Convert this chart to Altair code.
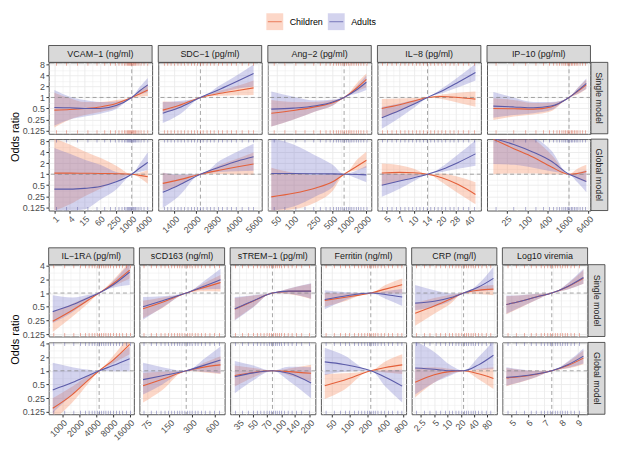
import math
import altair as alt
import pandas as pd

FONT = "Liberation Sans"
GROUPS = ["Children", "Adults"]
LINE_COLORS = ["#E4603A", "#5B5BA9"]
BAND_COLORS = ["#F47A4A", "#6E6EC8"]
RUG_COLORS = ["#D9472B", "#4A4A9C"]
ROW_LABELS = ["Single model", "Global model"]

Y_TICKS_TOP = [0.125, 0.25, 0.5, 1, 2, 4, 8]
Y_TICKS_BOTTOM = [0.125, 0.25, 0.5, 1, 2, 4]

# ---------------- VCAM-1 ----------------
VCAM_TICKS = [1, 4, 15, 60, 250, 1000, 4000]
VCAM_REF = 1000
VCAM_X = [1, 4, 15, 60, 250, 1000, 2000, 4200]
VCAM_SINGLE_CHILDREN = dict(mid=[0.45, 0.47, 0.5, 0.55, 0.68, 1.0, 1.25, 1.6], lo=[0.15, 0.25, 0.33, 0.40, 0.52, 1.0, 1.05, 1.1], hi=[1.35, 0.95, 0.75, 0.75, 0.85, 1.0, 1.5, 2.3])
VCAM_SINGLE_ADULTS = dict(mid=[0.53, 0.52, 0.5, 0.5, 0.6, 1.0, 1.5, 2.2], lo=[0.17, 0.25, 0.3, 0.36, 0.48, 1.0, 1.2, 1.4], hi=[1.6, 1.05, 0.85, 0.75, 0.78, 1.0, 1.9, 3.4])
VCAM_GLOBAL_CHILDREN = dict(mid=[1.07, 1.07, 1.06, 1.05, 1.03, 1.0, 0.93, 0.85], lo=[0.1, 0.15, 0.25, 0.4, 0.65, 1.0, 0.8, 0.55], hi=[9.5, 6.5, 4.2, 2.8, 1.7, 1.0, 1.1, 1.3])
VCAM_GLOBAL_ADULTS = dict(mid=[0.39, 0.39, 0.41, 0.46, 0.62, 1.0, 1.45, 2.1], lo=[0.1, 0.1, 0.11, 0.2, 0.38, 1.0, 1.15, 1.3], hi=[5.2, 3.6, 2.5, 1.8, 1.15, 1.0, 1.9, 4.0])
VCAM_RUG = [1.2, 3, 8, 20, 45, 90, 150, 230, 320, 420, 520, 600, 680, 750, 820, 900, 980, 1050, 1150, 1250, 1400, 1600, 1900, 2300, 3000, 4200]

# ---------------- SDC-1 ----------------
SDC_TICKS = [1400, 2000, 2800, 4000, 5600]
SDC_REF = 2150
SDC_X = [1150, 1500, 2150, 3000, 4000, 5200]
SDC_SINGLE_CHILDREN = dict(mid=[0.45, 0.6, 1.0, 1.3, 1.55, 1.83], lo=[0.38, 0.5, 1.0, 1.12, 1.15, 1.17], hi=[0.77, 0.75, 1.0, 1.55, 2.1, 2.9])
SDC_SINGLE_ADULTS = dict(mid=[0.37, 0.52, 1.0, 1.7, 2.8, 4.5], lo=[0.2, 0.33, 1.0, 1.35, 1.75, 2.0], hi=[0.75, 0.8, 1.0, 2.2, 4.2, 8.0])
SDC_GLOBAL_CHILDREN = dict(mid=[0.56, 0.7, 1.0, 1.3, 1.6, 1.9], lo=[0.35, 0.5, 1.0, 1.02, 0.98, 0.96], hi=[1.1, 0.95, 1.0, 1.8, 2.7, 3.9])
SDC_GLOBAL_ADULTS = dict(mid=[0.32, 0.5, 1.0, 1.6, 2.3, 3.0], lo=[0.12, 0.25, 1.0, 1.15, 1.2, 1.25], hi=[1.1, 1.0, 1.0, 2.4, 4.2, 6.8])
SDC_RUG = [1180, 1250, 1320, 1400, 1480, 1560, 1650, 1750, 1850, 1950, 2050, 2150, 2250, 2400, 2550, 2700, 2900, 3100, 3350, 3600, 3900, 4300, 4800, 5200]

# ---------------- Ang-2 ----------------
ANG_TICKS = [50, 100, 250, 500, 1000, 2000]
ANG_REF = 800
ANG_X = [40, 100, 250, 500, 800, 1400, 2000]
ANG_SINGLE_CHILDREN = dict(mid=[0.37, 0.44, 0.56, 0.72, 1.0, 1.9, 3.1], lo=[0.16, 0.25, 0.42, 0.6, 1.0, 1.5, 1.9], hi=[0.85, 0.75, 0.75, 0.85, 1.0, 2.6, 4.5])
ANG_SINGLE_ADULTS = dict(mid=[0.48, 0.51, 0.59, 0.75, 1.0, 1.7, 2.6], lo=[0.16, 0.25, 0.42, 0.6, 1.0, 1.3, 1.6], hi=[1.45, 1.05, 0.82, 0.88, 1.0, 2.2, 4.0])
ANG_GLOBAL_CHILDREN = dict(mid=[0.24, 0.3, 0.42, 0.62, 1.0, 1.7, 2.4], lo=[0.1, 0.11, 0.17, 0.35, 1.0, 1.3, 1.5], hi=[1.5, 1.1, 0.95, 0.98, 1.0, 2.6, 4.1])
ANG_GLOBAL_ADULTS = dict(mid=[1.05, 1.04, 1.03, 1.02, 1.0, 0.98, 0.96], lo=[0.1, 0.13, 0.25, 0.45, 1.0, 0.75, 0.6], hi=[9.5, 6.5, 3.2, 1.8, 1.0, 1.3, 1.7])
ANG_RUG = [45, 70, 110, 160, 230, 300, 380, 450, 520, 580, 640, 700, 760, 820, 880, 950, 1020, 1100, 1200, 1320, 1450, 1600, 1800, 2050]

# ---------------- IL-8 ----------------
IL8_TICKS = [5, 7, 10, 14, 20, 28, 40]
IL8_REF = 14
IL8_X = [4.5, 7, 10, 14, 20, 30, 46]
IL8_SINGLE_CHILDREN = dict(mid=[0.5, 0.63, 0.8, 1.0, 1.06, 1.0, 0.9], lo=[0.28, 0.42, 0.65, 1.0, 0.9, 0.72, 0.56], hi=[0.9, 0.93, 0.97, 1.0, 1.2, 1.35, 1.45])
IL8_SINGLE_ADULTS = dict(mid=[0.28, 0.44, 0.66, 1.0, 1.5, 2.6, 4.8], lo=[0.14, 0.28, 0.52, 1.0, 1.3, 1.9, 2.9], hi=[0.55, 0.68, 0.85, 1.0, 1.75, 3.6, 8.4])
IL8_GLOBAL_CHILDREN = dict(mid=[1.08, 1.12, 1.1, 1.0, 0.8, 0.52, 0.28], lo=[0.5, 0.65, 0.85, 1.0, 0.6, 0.3, 0.15], hi=[1.95, 1.75, 1.4, 1.0, 1.05, 0.85, 0.6])
IL8_GLOBAL_ADULTS = dict(mid=[0.5, 0.65, 0.8, 1.0, 1.35, 2.1, 3.6], lo=[0.24, 0.4, 0.65, 1.0, 1.15, 1.4, 1.7], hi=[1.05, 1.02, 1.0, 1.0, 1.6, 3.5, 8.5])
IL8_RUG = [4.6, 5.2, 5.8, 6.5, 7.2, 8, 8.8, 9.7, 10.6, 11.6, 12.7, 13.9, 15.2, 16.6, 18.2, 20, 22, 24.5, 27, 30, 34, 39, 45]

# ---------------- IP-10 ----------------
IP10_TICKS = [25, 100, 400, 1600, 6400]
IP10_REF = 1700
IP10_X = [10, 40, 150, 500, 1700, 3000, 5500]
IP10_SINGLE_CHILDREN = dict(mid=[0.5, 0.49, 0.48, 0.55, 1.0, 1.45, 2.2], lo=[0.24, 0.3, 0.34, 0.42, 1.0, 1.2, 1.7], hi=[0.95, 0.85, 0.7, 0.72, 1.0, 1.75, 3.1])
IP10_SINGLE_ADULTS = dict(mid=[0.58, 0.55, 0.52, 0.58, 1.0, 1.5, 2.4], lo=[0.28, 0.33, 0.37, 0.45, 1.0, 1.25, 1.7], hi=[1.4, 1.0, 0.75, 0.75, 1.0, 1.8, 3.3])
IP10_GLOBAL_CHILDREN = dict(mid=[9.0, 5.0, 2.9, 1.6, 1.0, 1.05, 1.18], lo=[1.0, 1.05, 1.05, 1.0, 1.0, 0.75, 0.6], hi=[12, 12, 9, 3.5, 1.0, 1.4, 1.8])
IP10_GLOBAL_ADULTS = dict(mid=[9.5, 6.5, 4.0, 2.3, 1.0, 0.8, 0.63], lo=[1.9, 1.8, 1.5, 1.2, 1.0, 0.6, 0.32], hi=[12, 12, 10, 4.5, 1.0, 1.1, 1.3])
IP10_RUG = [12, 40, 90, 180, 300, 450, 600, 750, 900, 1050, 1200, 1350, 1500, 1650, 1800, 2000, 2200, 2450, 2750, 3100, 3600, 4300, 5200]

# ---------------- IL-1RA ----------------
IL1RA_TICKS = [1000, 2000, 4000, 8000, 16000]
IL1RA_REF = 4540
IL1RA_X = [670, 1500, 3000, 4540, 8000, 16000]
IL1RA_SINGLE_CHILDREN = dict(mid=[0.24, 0.42, 0.72, 1.0, 1.6, 3.2], lo=[0.14, 0.3, 0.62, 1.0, 1.4, 2.1], hi=[0.38, 0.58, 0.85, 1.0, 1.9, 5.0])
IL1RA_SINGLE_ADULTS = dict(mid=[0.39, 0.55, 0.8, 1.0, 1.5, 2.9], lo=[0.22, 0.38, 0.7, 1.0, 1.3, 1.5], hi=[0.9, 0.8, 0.92, 1.0, 1.8, 4.5])
IL1RA_GLOBAL_CHILDREN = dict(mid=[0.15, 0.3, 0.65, 1.0, 1.7, 3.8], lo=[0.08, 0.2, 0.55, 1.0, 1.45, 2.3], hi=[0.25, 0.45, 0.8, 1.0, 2.1, 6.0])
IL1RA_GLOBAL_ADULTS = dict(mid=[0.38, 0.55, 0.8, 1.0, 1.3, 1.85], lo=[0.12, 0.3, 0.65, 1.0, 0.98, 0.98], hi=[1.5, 1.2, 1.05, 1.0, 1.75, 3.4])
IL1RA_RUG = [700, 1100, 1600, 2100, 2600, 3000, 3400, 3800, 4200, 4600, 5000, 5500, 6000, 6600, 7300, 8200, 9300, 10500, 12000, 14000, 16500]

# ---------------- sCD163 ----------------
SCD_TICKS = [75, 150, 300, 600]
SCD_REF = 250
SCD_X = [66, 120, 250, 450, 720]
SCD_SINGLE_CHILDREN = dict(mid=[0.45, 0.63, 1.0, 1.35, 1.7], lo=[0.28, 0.47, 1.0, 1.1, 1.08], hi=[0.68, 0.8, 1.0, 1.7, 2.5])
SCD_SINGLE_ADULTS = dict(mid=[0.5, 0.68, 1.0, 1.45, 1.95], lo=[0.26, 0.48, 1.0, 1.2, 1.22], hi=[0.82, 0.85, 1.0, 1.9, 3.4])
SCD_GLOBAL_CHILDREN = dict(mid=[0.47, 0.65, 1.0, 1.22, 1.35], lo=[0.2, 0.38, 1.0, 0.92, 0.85], hi=[0.9, 0.95, 1.0, 1.55, 2.1])
SCD_GLOBAL_ADULTS = dict(mid=[0.64, 0.78, 1.0, 1.35, 1.73], lo=[0.3, 0.5, 1.0, 0.95, 0.87], hi=[1.5, 1.2, 1.0, 1.9, 3.4])
SCD_RUG = [68, 85, 100, 115, 130, 145, 160, 175, 190, 205, 220, 240, 260, 280, 300, 330, 360, 400, 450, 520, 600, 700]

# ---------------- sTREM-1 ----------------
STREM_TICKS = [35, 50, 70, 100, 140, 200]
STREM_REF = 80
STREM_X = [31.5, 50, 80, 120, 208]
STREM_SINGLE_CHILDREN = dict(mid=[0.44, 0.67, 1.0, 1.09, 1.1], lo=[0.26, 0.5, 1.0, 0.95, 0.74], hi=[0.78, 0.88, 1.0, 1.25, 1.6])
STREM_SINGLE_ADULTS = dict(mid=[0.45, 0.68, 1.0, 1.1, 1.1], lo=[0.25, 0.49, 1.0, 0.96, 0.75], hi=[0.82, 0.9, 1.0, 1.26, 1.65])
STREM_GLOBAL_CHILDREN = dict(mid=[0.79, 0.92, 1.0, 0.96, 0.88], lo=[0.45, 0.72, 1.0, 0.8, 0.58], hi=[1.3, 1.15, 1.0, 1.12, 1.35])
STREM_GLOBAL_ADULTS = dict(mid=[0.74, 0.9, 1.0, 0.88, 0.54], lo=[0.32, 0.62, 1.0, 0.6, 0.25], hi=[1.65, 1.3, 1.0, 1.22, 1.2])
STREM_RUG = [32, 38, 44, 50, 55, 60, 65, 70, 74, 78, 82, 86, 90, 95, 100, 108, 118, 130, 145, 165, 200]

# ---------------- Ferritin ----------------
FERR_TICKS = [50, 100, 200, 400, 800]
FERR_REF = 227
FERR_X = [38, 80, 227, 400, 770]
FERR_SINGLE_CHILDREN = dict(mid=[0.69, 0.8, 1.0, 1.22, 1.52], lo=[0.5, 0.65, 1.0, 0.98, 0.98], hi=[1.0, 0.98, 1.0, 1.5, 2.1])
FERR_SINGLE_ADULTS = dict(mid=[0.72, 0.85, 1.0, 0.93, 0.82], lo=[0.44, 0.68, 1.0, 0.75, 0.52], hi=[1.15, 1.05, 1.0, 1.1, 1.22])
FERR_GLOBAL_CHILDREN = dict(mid=[0.47, 0.62, 1.0, 1.18, 1.35], lo=[0.24, 0.38, 1.0, 0.92, 0.85], hi=[0.85, 0.88, 1.0, 1.6, 2.3])
FERR_GLOBAL_ADULTS = dict(mid=[1.57, 1.38, 1.0, 0.72, 0.46], lo=[0.8, 0.95, 1.0, 0.45, 0.2], hi=[3.2, 2.2, 1.0, 1.02, 1.05])
FERR_RUG = [40, 55, 70, 85, 100, 120, 140, 160, 180, 200, 215, 230, 250, 270, 300, 340, 390, 450, 530, 650, 760]

# ---------------- CRP ----------------
CRP_TICKS = [2.5, 5, 10, 20, 40, 80]
CRP_REF = 23
CRP_X = [1.85, 5, 12, 23, 50, 109]
CRP_SINGLE_CHILDREN = dict(mid=[0.36, 0.52, 0.75, 1.0, 1.15, 1.22], lo=[0.19, 0.35, 0.6, 1.0, 0.95, 0.9], hi=[0.6, 0.78, 0.92, 1.0, 1.38, 1.5])
CRP_SINGLE_ADULTS = dict(mid=[0.6, 0.66, 0.8, 1.0, 1.35, 2.1], lo=[0.42, 0.5, 0.68, 1.0, 1.1, 1.15], hi=[1.5, 1.15, 0.98, 1.0, 1.6, 3.8])
CRP_GLOBAL_CHILDREN = dict(mid=[0.56, 0.82, 0.97, 1.0, 0.86, 0.68], lo=[0.26, 0.55, 0.85, 1.0, 0.65, 0.4], hi=[1.15, 1.2, 1.1, 1.0, 1.1, 1.2])
CRP_GLOBAL_ADULTS = dict(mid=[1.15, 1.08, 1.0, 1.0, 1.35, 2.2], lo=[0.3, 0.55, 0.8, 1.0, 1.05, 1.1], hi=[4.5, 2.6, 1.3, 1.0, 2.0, 4.5])
CRP_RUG = [2, 3, 4, 5.5, 7, 9, 11, 13, 15.5, 18, 21, 24, 27, 30, 34, 38, 43, 50, 60, 75, 95]

# ---------------- Log10 viremia ----------------
VIR_TICKS = [5, 6, 7, 8, 9]
VIR_REF = 7.44
VIR_X = [4.7, 5.5, 6.5, 7.44, 8.4, 9.35]
VIR_SINGLE_CHILDREN = dict(mid=[0.56, 0.65, 0.82, 1.0, 1.38, 2.1], lo=[0.34, 0.47, 0.7, 1.0, 1.2, 1.6], hi=[0.85, 0.88, 0.95, 1.0, 1.6, 3.2])
VIR_SINGLE_ADULTS = dict(mid=[0.56, 0.65, 0.82, 1.0, 1.4, 2.2], lo=[0.35, 0.48, 0.7, 1.0, 1.2, 1.6], hi=[0.88, 0.9, 0.96, 1.0, 1.65, 3.4])
VIR_GLOBAL_CHILDREN = dict(mid=[0.7, 0.74, 0.84, 1.0, 1.3, 1.9], lo=[0.46, 0.55, 0.72, 1.0, 1.12, 1.4], hi=[1.15, 1.05, 1.0, 1.0, 1.55, 2.8])
VIR_GLOBAL_ADULTS = dict(mid=[0.72, 0.76, 0.85, 1.0, 1.35, 2.1], lo=[0.47, 0.56, 0.73, 1.0, 1.15, 1.45], hi=[1.2, 1.08, 1.0, 1.0, 1.6, 3.1])
VIR_RUG = [4.8, 5.3, 5.8, 6.2, 6.5, 6.8, 7.0, 7.2, 7.35, 7.5, 7.65, 7.8, 7.95, 8.1, 8.25, 8.4, 8.6, 8.8, 9.1]

# panel: label, scale type, x-domain, ticks, ref, x, rug, curves[row][group]
TOP_PANELS = [
    ("VCAM\u22121 (ng/ml)", "log", [0.6, 6170], VCAM_TICKS, VCAM_REF, VCAM_X, VCAM_RUG,
     [[VCAM_SINGLE_CHILDREN, VCAM_SINGLE_ADULTS], [VCAM_GLOBAL_CHILDREN, VCAM_GLOBAL_ADULTS]]),
    ("SDC\u22121 (pg/ml)", "log", [1067, 5950], SDC_TICKS, SDC_REF, SDC_X, SDC_RUG,
     [[SDC_SINGLE_CHILDREN, SDC_SINGLE_ADULTS], [SDC_GLOBAL_CHILDREN, SDC_GLOBAL_ADULTS]]),
    ("Ang\u22122 (pg/ml)", "log", [34.7, 2447], ANG_TICKS, ANG_REF, ANG_X, ANG_RUG,
     [[ANG_SINGLE_CHILDREN, ANG_SINGLE_ADULTS], [ANG_GLOBAL_CHILDREN, ANG_GLOBAL_ADULTS]]),
    ("IL\u22128 (pg/ml)", "log", [4.04, 52.6], IL8_TICKS, IL8_REF, IL8_X, IL8_RUG,
     [[IL8_SINGLE_CHILDREN, IL8_SINGLE_ADULTS], [IL8_GLOBAL_CHILDREN, IL8_GLOBAL_ADULTS]]),
    ("IP\u221210 (pg/ml)", "log", [6.5, 7280], IP10_TICKS, IP10_REF, IP10_X, IP10_RUG,
     [[IP10_SINGLE_CHILDREN, IP10_SINGLE_ADULTS], [IP10_GLOBAL_CHILDREN, IP10_GLOBAL_ADULTS]]),
]
BOTTOM_PANELS = [
    ("IL\u22121RA (pg/ml)", "log", [566, 19000], IL1RA_TICKS, IL1RA_REF, IL1RA_X, IL1RA_RUG,
     [[IL1RA_SINGLE_CHILDREN, IL1RA_SINGLE_ADULTS], [IL1RA_GLOBAL_CHILDREN, IL1RA_GLOBAL_ADULTS]]),
    ("sCD163 (ng/ml)", "log", [59, 817], SCD_TICKS, SCD_REF, SCD_X, SCD_RUG,
     [[SCD_SINGLE_CHILDREN, SCD_SINGLE_ADULTS], [SCD_GLOBAL_CHILDREN, SCD_GLOBAL_ADULTS]]),
    ("sTREM\u22121 (pg/ml)", "log", [28.1, 231], STREM_TICKS, STREM_REF, STREM_X, STREM_RUG,
     [[STREM_SINGLE_CHILDREN, STREM_SINGLE_ADULTS], [STREM_GLOBAL_CHILDREN, STREM_GLOBAL_ADULTS]]),
    ("Ferritin (ng/ml)", "log", [32.7, 895], FERR_TICKS, FERR_REF, FERR_X, FERR_RUG,
     [[FERR_SINGLE_CHILDREN, FERR_SINGLE_ADULTS], [FERR_GLOBAL_CHILDREN, FERR_GLOBAL_ADULTS]]),
    ("CRP (mg/l)", "log", [1.54, 130], CRP_TICKS, CRP_REF, CRP_X, CRP_RUG,
     [[CRP_SINGLE_CHILDREN, CRP_SINGLE_ADULTS], [CRP_GLOBAL_CHILDREN, CRP_GLOBAL_ADULTS]]),
    ("Log10 viremia", "linear", [4.46, 9.6], VIR_TICKS, VIR_REF, VIR_X, VIR_RUG,
     [[VIR_SINGLE_CHILDREN, VIR_SINGLE_ADULTS], [VIR_GLOBAL_CHILDREN, VIR_GLOBAL_ADULTS]]),
]

GRID = "#EBEBEB"
STRIP_H = 17
W_TOP, H_TOP = 104.3, 72
W_BOT, H_BOT = 85.9, 72.4
ROW_GAP = 5.4
COL_GAP = 5.5


def minor_breaks(ticks, domain, log):
    if log:
        mids = [math.sqrt(a * b) for a, b in zip(ticks[:-1], ticks[1:])]
        lo = ticks[0] / math.sqrt(ticks[1] / ticks[0])
        hi = ticks[-1] * math.sqrt(ticks[-1] / ticks[-2])
    else:
        mids = [(a + b) / 2 for a, b in zip(ticks[:-1], ticks[1:])]
        lo = ticks[0] - (ticks[1] - ticks[0]) / 2
        hi = ticks[-1] + (ticks[-1] - ticks[-2]) / 2
    return [v for v in [lo] + mids + [hi] if domain[0] <= v <= domain[1]]


def make_axis(major, domain, log, show, **extra):
    major_in = [v for v in major if domain[0] <= v <= domain[1]]
    minor = minor_breaks(major, domain, log)
    test = "indexof([%s], datum.value) >= 0" % ",".join(repr(v) for v in major_in)
    return alt.Axis(
        values=sorted(major_in + minor), grid=True, gridColor=GRID,
        gridWidth={"condition": {"test": test, "value": 0.9}, "value": 0.45},
        domain=False, labels=show, ticks=show,
        tickOpacity={"condition": {"test": test, "value": 1}, "value": 0},
        labelExpr="(%s) ? '' + datum.value : ''" % test,
        labelOverlap=False, labelFlush=False, **extra)


def curve_df(xs, curves):
    recs = []
    for g, cur in zip(GROUPS, curves):
        for x, m, lo, hi in zip(xs, cur["mid"], cur["lo"], cur["hi"]):
            recs.append(dict(x=x, group=g, mid=m, lo=lo, hi=hi))
    return pd.DataFrame(recs)


def make_cell(p, r, col, ncol, W, H, ydom, yticks):
    label, stype, xdom, xticks, ref, xs_vals, rug, curves = p
    log = stype == "log"
    if log:
        xscale = alt.Scale(type="log", domain=xdom, nice=False)
    else:
        xscale = alt.Scale(type="linear", domain=xdom, nice=False, zero=False)
    yscale = alt.Scale(type="log", domain=ydom, nice=False)
    xaxis = make_axis(xticks, xdom, log, r == 1, labelAngle=315, labelAlign="right",
                      labelBaseline="top", labelPadding=1, title=None)
    y_extra = dict(labelPadding=1.5)
    if col == 0 and r == 0:
        y_extra.update(title="Odds ratio", titleY=H + ROW_GAP / 2, titlePadding=2,
                       titleFontSize=11, titleFontWeight="normal", titleColor="#000000")
    else:
        y_extra.update(title=None)
    yaxis = make_axis(yticks, ydom, True, col == 0, **y_extra)

    def X(f):
        return alt.X(f, scale=xscale, axis=xaxis)

    def Y(f):
        return alt.Y(f, scale=yscale, axis=yaxis)

    df = curve_df(xs_vals, curves[r])
    band = alt.Chart(df).mark_area(clip=True, opacity=0.3, interpolate="monotone").encode(
        x=X("x:Q"), y=Y("lo:Q"), y2="hi:Q",
        fill=alt.Fill("group:N", scale=alt.Scale(domain=GROUPS, range=BAND_COLORS), legend=None))
    line = alt.Chart(df).mark_line(clip=True, strokeWidth=1.1, interpolate="monotone").encode(
        x=X("x:Q"), y=Y("mid:Q"),
        stroke=alt.Stroke("group:N", scale=alt.Scale(domain=GROUPS, range=LINE_COLORS), legend=None))
    hline = alt.Chart(pd.DataFrame({"one": [1.0]})).mark_rule(
        color="#808080", strokeDash=[4, 3], strokeWidth=0.7).encode(y=Y("one:Q"))
    vline = alt.Chart(pd.DataFrame({"ref": [ref]})).mark_rule(
        color="#808080", strokeDash=[4, 3], strokeWidth=0.7).encode(x=X("ref:Q"))
    rug_df = pd.DataFrame({"v": rug})
    rug_top = alt.Chart(rug_df).mark_tick(color=RUG_COLORS[r], size=3.5, thickness=0.7, opacity=0.6).encode(
        x=X("v:Q"), y=alt.value(1.75))
    rug_bot = alt.Chart(rug_df).mark_tick(color=RUG_COLORS[r], size=3.5, thickness=0.7, opacity=0.6).encode(
        x=X("v:Q"), y=alt.value(H - 1.75))
    layers = [band, hline, vline, line, rug_top, rug_bot]
    if r == 0:
        sdf = pd.DataFrame({"label": [label]})
        layers.append(alt.Chart(sdf).mark_rect(fill="#D9D9D9", stroke="#333333", strokeWidth=0.8).encode(
            x=alt.value(0), x2=alt.value(W), y=alt.value(-STRIP_H), y2=alt.value(0)))
        layers.append(alt.Chart(sdf).mark_text(fontSize=9, color="#1A1A1A").encode(
            text="label:N", x=alt.value(W / 2), y=alt.value(-STRIP_H / 2)))
    if col == ncol - 1:
        rdf = pd.DataFrame({"label": [ROW_LABELS[r]]})
        layers.append(alt.Chart(rdf).mark_rect(fill="#D9D9D9", stroke="#333333", strokeWidth=0.8).encode(
            x=alt.value(W + 0.5), x2=alt.value(W + 17.5), y=alt.value(0), y2=alt.value(H)))
        layers.append(alt.Chart(rdf).mark_text(fontSize=9, color="#1A1A1A", angle=90).encode(
            text="label:N", x=alt.value(W + 9), y=alt.value(H / 2)))
    return alt.layer(*layers).properties(width=W, height=H)


def make_block(panels, W, H, ydom, yticks):
    n = len(panels)
    cells = [make_cell(p, r, c, n, W, H, ydom, yticks) for r in range(2) for c, p in enumerate(panels)]
    return alt.concat(*cells, columns=n, spacing={"row": ROW_GAP, "column": COL_GAP},
                      bounds="flush").resolve_scale(x="independent", y="independent")


block_top = make_block(TOP_PANELS, W_TOP, H_TOP, [0.1015, 9.1], Y_TICKS_TOP)
block_bottom = make_block(BOTTOM_PANELS, W_BOT, H_BOT, [0.111, 4.2], Y_TICKS_BOTTOM)

# legend (manual, drawn from the group list through a point scale)
leg_df = pd.DataFrame({"group": GROUPS})
leg_x = alt.X("group:N", sort=GROUPS,
              scale=alt.Scale(type="point", domain=GROUPS, range=[228, 290], padding=0), axis=None)
leg_keys = alt.Chart(leg_df).mark_square(size=289, opacity=0.3, strokeWidth=0).encode(
    x=leg_x, y=alt.value(11),
    fill=alt.Fill("group:N", scale=alt.Scale(domain=GROUPS, range=BAND_COLORS), legend=None))
leg_lines = alt.Chart(leg_df).mark_tick(orient="horizontal", size=14, thickness=1.1).encode(
    x=leg_x, y=alt.value(11),
    color=alt.Color("group:N", scale=alt.Scale(domain=GROUPS, range=LINE_COLORS), legend=None))
leg_text = alt.Chart(leg_df).mark_text(align="left", dx=15, fontSize=9, color="#000000").encode(
    x=leg_x, y=alt.value(11), text="group:N")
legend = alt.layer(leg_keys, leg_lines, leg_text).properties(
    width=340, height=22, view=alt.ViewBackground(stroke="transparent"))

chart = alt.vconcat(legend, block_top, block_bottom, spacing=11).resolve_scale(
    x="independent", y="independent").properties(padding=0).configure(font=FONT).configure_view(
    stroke="#555555", strokeWidth=1).configure_axis(
    labelFont=FONT, labelFontSize=9, labelColor="#4D4D4D", tickColor="#333333", tickSize=2.75,
    titleFont=FONT)

chart.save("out.html", embed_options={"renderer": "svg", "actions": False})
